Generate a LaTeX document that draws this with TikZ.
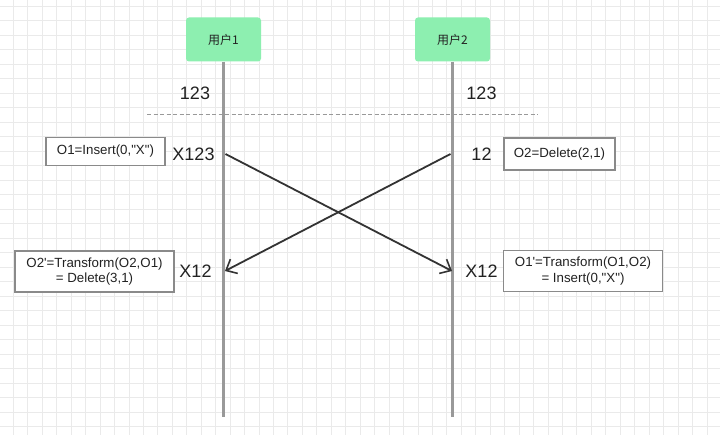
\documentclass[tikz,border=0pt]{standalone}
\usepackage{fontspec}
\setmainfont{Liberation Sans}[Ligatures=TeXOff]
\newfontfamily\cjk{Noto Sans CJK SC}
\usetikzlibrary{arrows.meta}
\definecolor{gridc}{HTML}{EAEAEA}
\definecolor{lifec}{HTML}{999999}
\definecolor{userfill}{HTML}{8DEFB0}
\definecolor{txt}{HTML}{222222}
\definecolor{boxc}{HTML}{8A8A8A}
\definecolor{arrc}{HTML}{333333}
\tikzset{
  userbox/.style={fill=userfill, rounded corners=3pt, minimum width=75pt, minimum height=44pt, inner sep=0pt, font=\cjk\fontsize{12}{14}\selectfont, text=txt},
  opbox/.style={draw=boxc, line width=1.4pt, fill=white, inner sep=0pt, font=\fontsize{13.3}{15.5}\selectfont, text=txt, align=center},
  state/.style={font=\fontsize{18}{20}\selectfont, text=txt, inner sep=0pt},
  lifeline/.style={draw=lifec, line width=2.2pt},
  msg/.style={draw=arrc, line width=1.8pt, -{Straight Barb[length=9pt,width=16pt,line width=1.6pt]}},
}
\begin{document}
\begin{tikzpicture}[x=1pt,y=-1pt]
\useasboundingbox (0,0) rectangle (720,435);
\fill[white] (0,0) rectangle (720,435);
% grid
\foreach \i in {0,...,49} {\draw[gridc, line width=0.8pt] ({13.3+14.45*\i},0) -- ({13.3+14.45*\i},435);}
\foreach \j in {0,...,29} {\draw[gridc, line width=0.8pt] (0,{6+14.5*\j}) -- (720,{6+14.5*\j});}
% users
\node[userbox] (u1) at (223.5,39.5) {用户1};
\node[userbox] (u2) at (452.5,39.5) {用户2};
\coordinate (l1) at (223.5,417);
\coordinate (l2) at (452.5,417);
\draw[lifeline] (u1.south) -- (l1);
\draw[lifeline] (u2.south) -- (l2);
% dashed separator
\coordinate (d1) at (147,115);
\coordinate (d2) at (538,115);
\draw[lifec, line width=1pt, dash pattern=on 4pt off 2.5pt] (d1) -- (d2);
% states
\node[state] (s1) at (195,93) {123};
\node[state] (s2) at (481.5,93) {123};
\node[state] (s3) at (193.5,154) {X123};
\node[state] (s4) at (481.5,154) {12};
\node[state] (s5) at (195.5,271) {X12};
\node[state] (s6) at (481.5,271) {X12};
% op boxes
\node[opbox, minimum width=119pt, minimum height=28pt] (o1) at (105.5,151.5) {O1=Insert(0,"X")};
\node[opbox, minimum width=111pt, minimum height=32pt] (o2) at (559.5,154) {O2=Delete(2,1)};
\node[opbox, minimum width=159pt, minimum height=41pt] (o3) at (94.5,271.5) {O2'=Transform(O2,O1)\\= Delete(3,1)};
\node[opbox, minimum width=159pt, minimum height=41pt] (o4) at (583,271) {O1'=Transform(O1,O2)\\= Insert(0,"X")};
% messages
\coordinate (a1) at (225.5,154);
\coordinate (b1) at (452,271);
\coordinate (a2) at (450.5,154);
\coordinate (b2) at (225,271);
\draw[msg] (a1) -- (b1);
\draw[msg] (a2) -- (b2);
\end{tikzpicture}
\end{document}
